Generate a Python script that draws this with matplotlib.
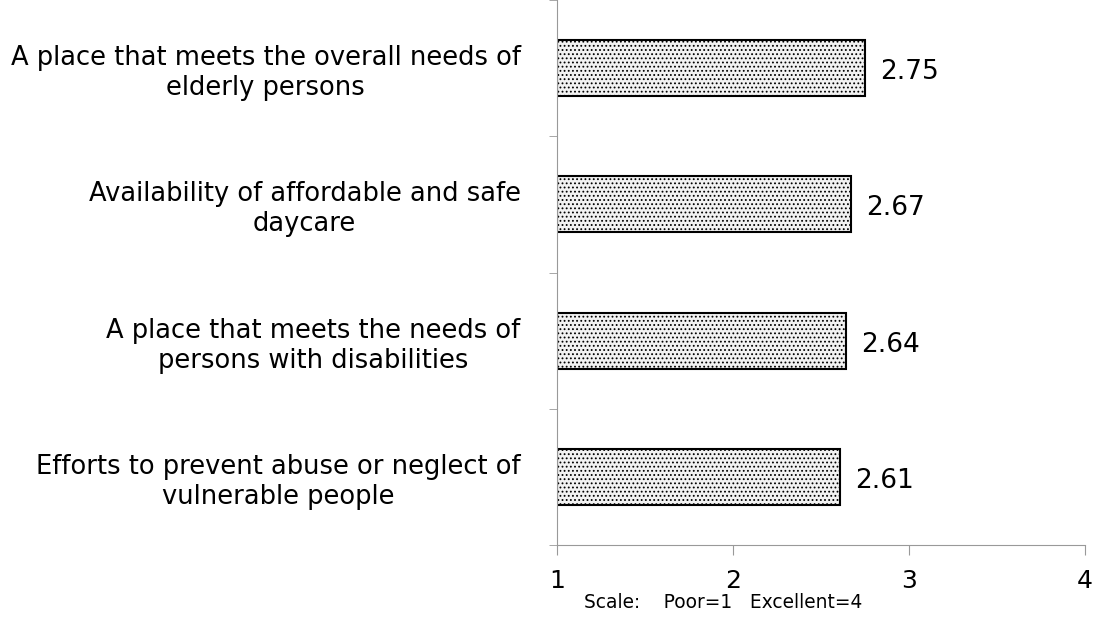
import matplotlib.pyplot as plt
import matplotlib as mpl

categories = ['A place that meets the overall needs of\nelderly persons',
              'Availability of affordable and safe\ndaycare',
              'A place that meets the needs of\npersons with disabilities',
              'Efforts to prevent abuse or neglect of\nvulnerable people']
values = [2.75, 2.67, 2.64, 2.61]
xticks = [1, 2, 3, 4]
note = 'Scale:    Poor=1   Excellent=4'

mpl.rcParams['hatch.color'] = '#b4b4b4'
mpl.rcParams['hatch.linewidth'] = 0.8

fig = plt.figure(figsize=(10.94, 6.39), dpi=100)
ax = fig.add_axes([0.509, 0.147, 0.483, 0.853])

pos = list(range(len(categories)))
ax.barh(pos, [v - 1 for v in values], left=1, height=0.41, color='#f2f2f2',
        edgecolor='black', linewidth=1.5, hatch='....')

for p, v in zip(pos, values):
    ax.text(v + 0.085, p + 0.03, f'{v:.2f}', va='center', ha='left', fontsize=19)

ax.set_xlim(1, 4)
ax.set_ylim(3.5, -0.5)
ax.set_xticks(xticks)
ax.set_xticklabels([str(t) for t in xticks], fontsize=18)
ax.set_yticks(pos)
ax.set_yticklabels(categories, fontsize=18.5)
for lbl in ax.get_yticklabels():
    lbl.set_multialignment('center')
    lbl.set_linespacing(1.2)
ax.tick_params(axis='y', length=0, pad=26)
ax.set_yticks([-0.5, 0.5, 1.5, 2.5, 3.5], minor=True)
ax.tick_params(axis='y', which='minor', length=6, color='#999999', direction='out')
ax.tick_params(axis='x', length=7, color='#999999', direction='out', pad=10)

for s in ['top', 'right']:
    ax.spines[s].set_visible(False)
ax.spines['left'].set_color('#999999')
ax.spines['bottom'].set_color('#999999')

fig.text(584 / 1094, 1 - 603 / 639, note, fontsize=13.4, va='center', ha='left')

fig.savefig('out.png', dpi=100)
